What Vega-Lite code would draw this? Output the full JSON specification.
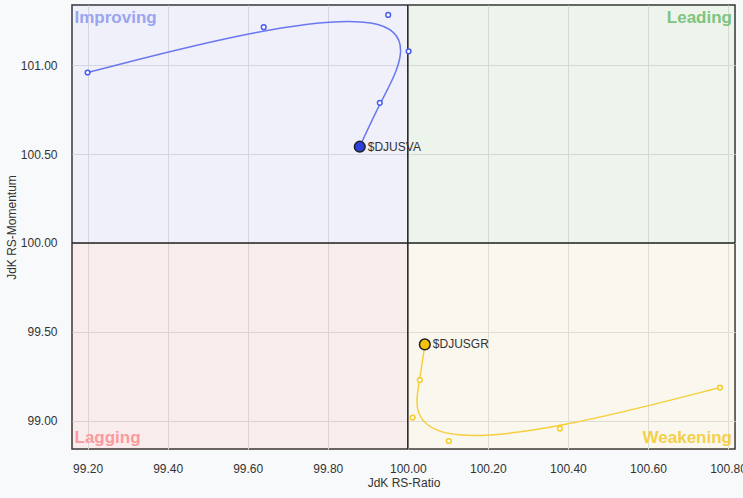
{
  "$schema": "https://vega.github.io/schema/vega-lite/v6.json",
  "width": 663,
  "height": 444,
  "autosize": {"type": "none"},
  "padding": {"left": 72, "top": 5, "right": 8, "bottom": 49},
  "background": "#f8f9fa",
  "config": {
    "view": {"fill": "#ffffff", "stroke": "#333333", "strokeWidth": 1.5},
    "font": "Liberation Sans",
    "axis": {
      "grid": true,
      "gridColor": "#e3e3e3",
      "gridWidth": 1,
      "ticks": false,
      "domain": false,
      "labelFont": "Liberation Sans",
      "labelFontSize": 12,
      "labelColor": "#333333",
      "titleFont": "Liberation Sans",
      "titleFontSize": 12,
      "titleFontWeight": "normal",
      "titleColor": "#333333"
    },
    "axisX": {"labelPadding": 14, "titlePadding": 3},
    "axisY": {"labelPadding": 15, "titlePadding": 2}
  },
  "datasets": {
    "quadrants": [
      {"q": "Improving", "x": 99.161, "x2": 100, "y": 100, "y2": 101.34},
      {"q": "Leading", "x": 100, "x2": 100.8175, "y": 100, "y2": 101.34},
      {"q": "Lagging", "x": 99.161, "x2": 100, "y": 98.84, "y2": 100},
      {"q": "Weakening", "x": 100, "x2": 100.8175, "y": 98.84, "y2": 100}
    ],
    "dividers": [{"x": 100, "y": 100}],
    "tails": [
      {"s": "$DJUSVA", "t": 1, "x": 99.2, "y": 100.96},
      {"s": "$DJUSVA", "t": 2, "x": 99.64, "y": 101.215},
      {"s": "$DJUSVA", "t": 3, "x": 99.951, "y": 101.284},
      {"s": "$DJUSVA", "t": 4, "x": 100.002, "y": 101.079},
      {"s": "$DJUSVA", "t": 5, "x": 99.93, "y": 100.789},
      {"s": "$DJUSVA", "t": 6, "x": 99.88, "y": 100.542},
      {"s": "$DJUSGR", "t": 1, "x": 100.78, "y": 99.186},
      {"s": "$DJUSGR", "t": 2, "x": 100.38, "y": 98.955},
      {"s": "$DJUSGR", "t": 3, "x": 100.1025, "y": 98.885},
      {"s": "$DJUSGR", "t": 4, "x": 100.012, "y": 99.017},
      {"s": "$DJUSGR", "t": 5, "x": 100.03, "y": 99.228},
      {"s": "$DJUSGR", "t": 6, "x": 100.0425, "y": 99.429}
    ]
  },
  "resolve": {"scale": {"color": "independent", "fill": "independent", "stroke": "independent"}},
  "layer": [
    {
      "data": {"name": "quadrants"},
      "mark": {"type": "rect", "fillOpacity": 0.1, "strokeWidth": 0},
      "encoding": {
        "x": {"field": "x", "type": "quantitative", "scale": {"domain": [99.161, 100.8175], "nice": false, "zero": false},
              "axis": {"title": "JdK RS-Ratio", "values": [99.2, 99.4, 99.6, 99.8, 100, 100.2, 100.4, 100.6, 100.8], "format": ".2f"}},
        "x2": {"field": "x2"},
        "y": {"field": "y", "type": "quantitative", "scale": {"domain": [98.84, 101.34], "nice": false, "zero": false},
              "axis": {"title": "JdK RS-Momentum", "values": [99, 99.5, 100, 100.5, 101], "format": ".2f"}},
        "y2": {"field": "y2"},
        "color": {"field": "q", "type": "nominal", "legend": null,
                  "scale": {"domain": ["Improving", "Leading", "Lagging", "Weakening"], "range": ["#5f69cd", "#4b9141", "#c3414b", "#c3af55"]}}
      }
    },
    {
      "data": {"name": "dividers"},
      "mark": {"type": "rule", "color": "#222222", "strokeWidth": 1.5},
      "encoding": {
        "x": {"field": "x", "type": "quantitative", "scale": {"domain": [99.161, 100.8175], "nice": false, "zero": false}}
      }
    },
    {
      "data": {"name": "dividers"},
      "mark": {"type": "rule", "color": "#222222", "strokeWidth": 1.5},
      "encoding": {
        "y": {"field": "y", "type": "quantitative", "scale": {"domain": [98.84, 101.34], "nice": false, "zero": false}}
      }
    },
    {
      "data": {"name": "quadrants"},
      "transform": [{"filter": "datum.q === 'Improving'"}],
      "mark": {"type": "text", "align": "left", "baseline": "alphabetic", "dx": 2.5, "dy": 17.5, "fontSize": 17, "fontWeight": "bold", "color": "#9ba4ef"},
      "encoding": {
        "x": {"field": "x", "type": "quantitative", "scale": {"domain": [99.161, 100.8175], "nice": false, "zero": false}},
        "y": {"field": "y2", "type": "quantitative", "scale": {"domain": [98.84, 101.34], "nice": false, "zero": false}},
        "text": {"field": "q"}
      }
    },
    {
      "data": {"name": "quadrants"},
      "transform": [{"filter": "datum.q === 'Leading'"}],
      "mark": {"type": "text", "align": "right", "baseline": "alphabetic", "dx": -3, "dy": 17.5, "fontSize": 17, "fontWeight": "bold", "color": "#7dc47d"},
      "encoding": {
        "x": {"field": "x2", "type": "quantitative", "scale": {"domain": [99.161, 100.8175], "nice": false, "zero": false}},
        "y": {"field": "y2", "type": "quantitative", "scale": {"domain": [98.84, 101.34], "nice": false, "zero": false}},
        "text": {"field": "q"}
      }
    },
    {
      "data": {"name": "quadrants"},
      "transform": [{"filter": "datum.q === 'Lagging'"}],
      "mark": {"type": "text", "align": "left", "baseline": "alphabetic", "dx": 2.5, "dy": -6, "fontSize": 17, "fontWeight": "bold", "color": "#fb9a9e"},
      "encoding": {
        "x": {"field": "x", "type": "quantitative", "scale": {"domain": [99.161, 100.8175], "nice": false, "zero": false}},
        "y": {"field": "y", "type": "quantitative", "scale": {"domain": [98.84, 101.34], "nice": false, "zero": false}},
        "text": {"field": "q"}
      }
    },
    {
      "data": {"name": "quadrants"},
      "transform": [{"filter": "datum.q === 'Weakening'"}],
      "mark": {"type": "text", "align": "right", "baseline": "alphabetic", "dx": -3, "dy": -6, "fontSize": 17, "fontWeight": "bold", "color": "#f6cf48"},
      "encoding": {
        "x": {"field": "x2", "type": "quantitative", "scale": {"domain": [99.161, 100.8175], "nice": false, "zero": false}},
        "y": {"field": "y", "type": "quantitative", "scale": {"domain": [98.84, 101.34], "nice": false, "zero": false}},
        "text": {"field": "q"}
      }
    },
    {
      "data": {"name": "tails"},
      "mark": {"type": "line", "interpolate": "basis", "strokeWidth": 1.5},
      "encoding": {
        "x": {"field": "x", "type": "quantitative", "scale": {"domain": [99.161, 100.8175], "nice": false, "zero": false}},
        "y": {"field": "y", "type": "quantitative", "scale": {"domain": [98.84, 101.34], "nice": false, "zero": false}},
        "color": {"field": "s", "type": "nominal", "legend": null, "scale": {"domain": ["$DJUSVA", "$DJUSGR"], "range": ["#6a78ef", "#f7cf3a"]}},
        "order": {"field": "t", "type": "quantitative"}
      }
    },
    {
      "data": {"name": "tails"},
      "transform": [{"filter": "datum.t < 6"}],
      "mark": {"type": "point", "shape": "circle", "filled": false, "fill": "#ffffff", "fillOpacity": 1, "strokeWidth": 1.5, "size": 22, "opacity": 1},
      "encoding": {
        "x": {"field": "x", "type": "quantitative", "scale": {"domain": [99.161, 100.8175], "nice": false, "zero": false}},
        "y": {"field": "y", "type": "quantitative", "scale": {"domain": [98.84, 101.34], "nice": false, "zero": false}},
        "stroke": {"field": "s", "type": "nominal", "legend": null, "scale": {"domain": ["$DJUSVA", "$DJUSGR"], "range": ["#4a5cf0", "#f5cb25"]}}
      }
    },
    {
      "data": {"name": "tails"},
      "transform": [{"filter": "datum.t === 6"}],
      "mark": {"type": "circle", "size": 115, "stroke": "#222222", "strokeWidth": 1.5, "opacity": 1},
      "encoding": {
        "x": {"field": "x", "type": "quantitative", "scale": {"domain": [99.161, 100.8175], "nice": false, "zero": false}},
        "y": {"field": "y", "type": "quantitative", "scale": {"domain": [98.84, 101.34], "nice": false, "zero": false}},
        "fill": {"field": "s", "type": "nominal", "legend": null, "scale": {"domain": ["$DJUSVA", "$DJUSGR"], "range": ["#2b40dc", "#f4c20d"]}}
      }
    },
    {
      "data": {"name": "tails"},
      "transform": [{"filter": "datum.t === 6"}],
      "mark": {"type": "text", "align": "left", "baseline": "middle", "dx": 8, "fontSize": 12, "color": "#333333"},
      "encoding": {
        "x": {"field": "x", "type": "quantitative", "scale": {"domain": [99.161, 100.8175], "nice": false, "zero": false}},
        "y": {"field": "y", "type": "quantitative", "scale": {"domain": [98.84, 101.34], "nice": false, "zero": false}},
        "text": {"field": "s"}
      }
    }
  ]
}
